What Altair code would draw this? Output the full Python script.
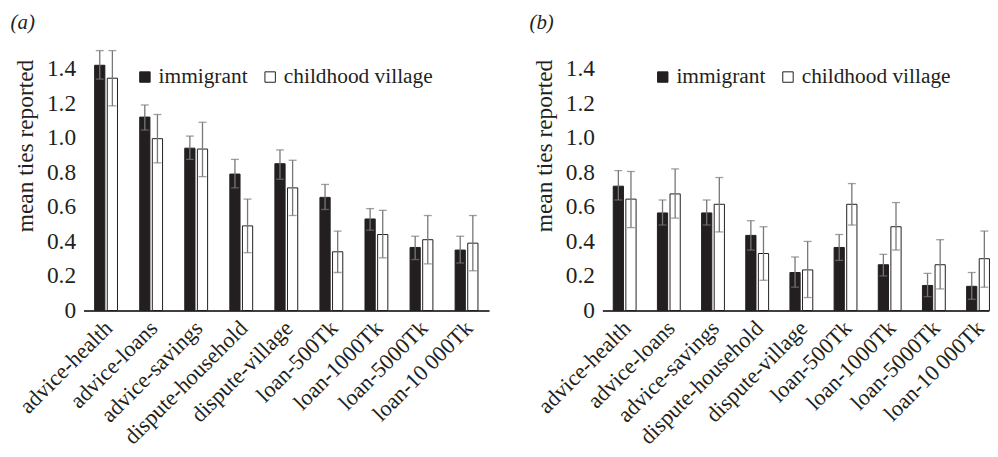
import altair as alt
import pandas as pd

cats = ["advice-health", "advice-loans", "advice-savings", "dispute-household",
        "dispute-village", "loan-500Tk", "loan-1000Tk", "loan-5000Tk", "loan-10\u2009000Tk"]
groups = ["immigrant", "childhood village"]

a_imm = [1.42, 1.12, 0.94, 0.79, 0.85, 0.655, 0.53, 0.365, 0.35]
a_imm_lo = [1.34, 1.045, 0.875, 0.71, 0.76, 0.585, 0.465, 0.295, 0.275]
a_imm_hi = [1.505, 1.19, 1.01, 0.875, 0.93, 0.73, 0.59, 0.43, 0.43]
a_vil = [1.345, 0.995, 0.935, 0.49, 0.71, 0.34, 0.44, 0.41, 0.39]
a_vil_lo = [1.185, 0.855, 0.775, 0.335, 0.55, 0.22, 0.305, 0.27, 0.23]
a_vil_hi = [1.505, 1.135, 1.09, 0.645, 0.87, 0.46, 0.58, 0.55, 0.55]

b_imm = [0.72, 0.565, 0.565, 0.435, 0.22, 0.365, 0.265, 0.145, 0.14]
b_imm_lo = [0.64, 0.495, 0.495, 0.35, 0.135, 0.29, 0.2, 0.08, 0.065]
b_imm_hi = [0.81, 0.64, 0.64, 0.52, 0.31, 0.44, 0.325, 0.215, 0.22]
b_vil = [0.645, 0.675, 0.615, 0.33, 0.235, 0.615, 0.485, 0.265, 0.3]
b_vil_lo = [0.48, 0.535, 0.455, 0.175, 0.075, 0.495, 0.35, 0.125, 0.135]
b_vil_hi = [0.805, 0.82, 0.77, 0.485, 0.4, 0.735, 0.625, 0.41, 0.46]

y_ticks = [0, 0.2, 0.4, 0.6, 0.8, 1.0, 1.2, 1.4]

FONT = "Liberation Serif"
INK = "#231f20"
ERR = "#777777"


def make_df(imm, imm_lo, imm_hi, vil, vil_lo, vil_hi):
    rows = []
    for i, c in enumerate(cats):
        rows.append({"cat": c, "grp": groups[0], "v": imm[i], "lo": imm_lo[i], "hi": imm_hi[i]})
        rows.append({"cat": c, "grp": groups[1], "v": vil[i], "lo": vil_lo[i], "hi": vil_hi[i]})
    return pd.DataFrame(rows)


def panel(df, label, W, pad_outer, align, legend_x):
    xs = alt.Scale(domain=cats, paddingInner=0.493, paddingOuter=pad_outer, align=align, round=False)
    xo = alt.Scale(domain=groups, paddingInner=0.19, paddingOuter=0, round=False)
    ys = alt.Scale(domain=[0, 1.6], nice=False)
    x_axis = alt.Axis(labelAngle=-45, ticks=False, domainColor="black", domainWidth=1.6,
                      labelFont=FONT, labelFontSize=22.5, labelColor=INK,
                      labelPadding=6, labelOffset=-5, labelOverlap=False)
    y_axis = alt.Axis(values=y_ticks, domain=False, ticks=False, grid=False,
                      labelFont=FONT, titleFont=FONT, labelColor=INK, titleColor=INK,
                      labelFontSize=23.5, titleFontSize=23.5, titleFontWeight="normal",
                      labelPadding=8, titlePadding=9, titleY=112, labelOverlap=False,
                      labelExpr="datum.value == 0 ? '0' : format(datum.value, '.1f')")
    x = alt.X("cat:N", scale=xs, sort=cats, title=None, axis=x_axis)
    xoff = alt.XOffset("grp:N", scale=xo, sort=groups)
    ytitle = "mean ties reported"
    base = alt.Chart(df)
    bars = base.mark_bar(stroke=INK, strokeWidth=1).encode(
        x=x, xOffset=xoff,
        y=alt.Y("v:Q", scale=ys, title=ytitle, axis=y_axis),
        fill=alt.Fill("grp:N", sort=groups,
                      scale=alt.Scale(domain=groups, range=[INK, "white"]),
                      legend=alt.Legend(title=None, orient="none", direction="horizontal",
                                        legendX=legend_x, legendY=32, symbolType="square",
                                        symbolSize=110, symbolStrokeColor=INK,
                                        symbolStrokeWidth=1, labelFont=FONT, labelColor=INK,
                                        labelFontSize=21.5, labelOffset=3,
                                        columnPadding=11, padding=0)),
    )
    rule = base.mark_rule(color=ERR, strokeWidth=1.3).encode(
        x=x, xOffset=xoff,
        y=alt.Y("lo:Q", scale=ys, title=ytitle, axis=y_axis), y2="hi:Q")
    cap_lo = base.mark_tick(color=ERR, thickness=1.3, size=8).encode(
        x=x, xOffset=xoff, y=alt.Y("lo:Q", scale=ys, title=ytitle, axis=y_axis))
    cap_hi = base.mark_tick(color=ERR, thickness=1.3, size=8).encode(
        x=x, xOffset=xoff, y=alt.Y("hi:Q", scale=ys, title=ytitle, axis=y_axis))
    return alt.layer(bars, rule, cap_lo, cap_hi).properties(
        width=W, height=278,
        title=alt.TitleParams(label, anchor="start", fontSize=21, fontStyle="italic",
                              fontWeight="normal", dx=-3, offset=1, font=FONT, color=INK,
                              frame="bounds"))


df_a = make_df(a_imm, a_imm_lo, a_imm_hi, a_vil, a_vil_lo, a_vil_hi)
df_b = make_df(b_imm, b_imm_lo, b_imm_hi, b_vil, b_vil_lo, b_vil_hi)

left = panel(df_a, "(a)", 408, 0.2465, 0.5, 51)
right = panel(df_b, "(b)", 389, 0.123, 1.0, 50)

chart = alt.hconcat(left, right, spacing=40).resolve_scale(fill="independent").properties(
    padding={"left": 2, "top": 3, "right": 0, "bottom": 0}
).configure(font=FONT).configure_view(stroke=None)

chart.save("out.html", embed_options={"renderer": "svg", "actions": False})
